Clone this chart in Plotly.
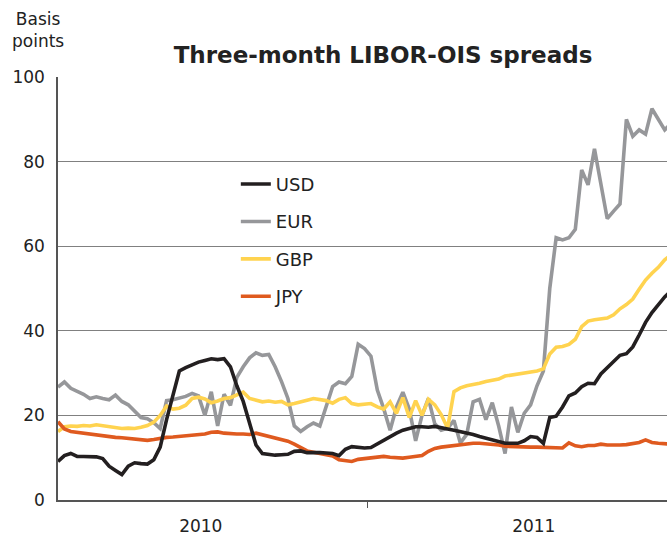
import pandas as pd
import plotly.graph_objects as go

# Weekly observation dates (x categories)
dates = pd.date_range("2010-01-27", periods=97, freq="7D")

usd = [9.1, 10.5, 11.0, 10.3, 10.3, 10.2, 10.2, 9.8, 8.0, 7.0,
       6.0, 8.0, 8.8, 8.6, 8.5, 9.5, 12.5, 19.0, 25.0, 30.5,
       31.3, 32.0, 32.6, 33.0, 33.4, 33.2, 33.4, 31.5, 27.0, 23.3,
       17.8, 13.0, 11.0, 10.8, 10.6, 10.7, 10.8, 11.5, 11.6, 11.2,
       11.3, 11.2, 11.1, 11.0, 10.5, 12.0, 12.6, 12.4, 12.3, 12.4,
       13.3, 14.0, 15.0, 15.8, 16.5, 17.0, 17.3, 17.3, 17.2, 17.4,
       17.0, 16.8, 16.5, 16.2, 15.8, 15.5, 15.0, 14.6, 14.0, 13.8,
       13.4, 13.4, 13.4, 14.0, 15.0, 14.8, 13.4, 19.5, 19.8, 22.0,
       24.6, 25.3, 26.8, 27.6, 27.5, 29.8, 31.2, 32.7, 34.2, 34.6,
       36.2, 39.0, 42.0, 44.3, 46.3, 48.0, 49.5]

eur = [26.7, 27.9, 26.4, 25.8, 25.0, 24.0, 24.4, 24.0, 23.7, 24.8,
       23.3, 22.5, 21.0, 19.5, 19.2, 18.3, 16.9, 23.5, 23.7, 24.0,
       24.5, 25.2, 24.6, 20.0, 25.6, 17.5, 25.0, 22.4, 29.0, 31.5,
       33.6, 34.8, 34.2, 34.4, 31.5, 28.0, 24.0, 17.5, 16.2, 17.3,
       18.2, 17.5, 22.5, 26.8, 27.9, 27.5, 29.2, 36.8, 35.8, 34.0,
       26.0, 21.6, 16.5, 22.0, 25.5, 21.5, 14.0, 20.0, 24.0, 18.0,
       16.5, 17.0, 18.8, 13.5, 15.5, 23.2, 23.8, 19.0, 23.0, 17.5,
       11.0, 22.0, 16.0, 20.5, 22.5, 27.0, 30.5, 50.0, 62.0, 61.5,
       62.0, 64.0, 78.0, 74.5, 83.0, 74.5, 66.5, 68.3, 70.0, 90.0,
       86.0, 87.5, 86.5, 92.5, 90.0, 87.5, 89.0]

gbp = [16.2, 17.3, 17.5, 17.4, 17.6, 17.5, 17.8, 17.6, 17.5, 17.2,
       16.9, 17.0, 16.9, 17.2, 17.6, 18.4, 20.0, 22.2, 21.5, 21.7,
       22.4, 24.0, 24.3, 23.9, 23.0, 23.4, 24.0, 24.2, 24.8, 25.5,
       24.0, 23.5, 23.2, 23.4, 23.1, 23.3, 22.5, 22.8, 23.3, 23.6,
       24.0, 23.8, 23.5, 22.9, 23.8, 24.2, 22.8, 22.5, 22.6, 22.8,
       22.0, 21.5, 23.2, 20.5, 24.2, 19.5, 23.5, 20.0, 23.8, 22.5,
       20.2, 17.0, 25.6, 26.5, 27.0, 27.2, 27.6, 28.0, 28.3, 28.6,
       29.3, 29.5, 29.8, 30.0, 30.2, 30.5, 31.0, 34.5, 36.1, 36.3,
       36.8, 38.0, 41.0, 42.3, 42.6, 42.9, 43.0, 43.8, 45.2, 46.2,
       47.5, 49.8, 52.0, 53.6, 55.0, 56.8, 58.0]

jpy = [18.5, 16.8, 16.2, 16.0, 15.7, 15.4, 15.2, 15.1, 15.0, 14.8,
       14.7, 14.5, 14.3, 14.2, 14.1, 14.3, 14.6, 14.8, 14.9, 15.0,
       15.1, 15.3, 15.4, 15.6, 16.0, 16.1, 15.8, 15.6, 15.6, 15.6,
       15.5, 15.8, 15.4, 14.9, 14.5, 14.3, 13.9, 13.2, 12.4, 11.6,
       11.3, 11.0, 10.7, 10.4, 9.5, 9.2, 9.1, 9.6, 9.8, 10.0,
       10.2, 10.3, 10.1, 9.9, 9.9, 10.1, 10.2, 10.5, 11.5, 12.2,
       12.5, 12.7, 12.9, 13.1, 13.3, 13.4, 13.4, 13.3, 13.1, 13.0,
       12.7, 12.6, 12.6, 12.5, 12.5, 12.5, 12.4, 12.3, 12.2, 12.3,
       13.5, 12.8, 12.6, 12.9, 12.9, 13.2, 13.0, 12.9, 13.0, 13.1,
       13.3, 13.6, 14.2, 13.6, 13.4, 13.3, 13.2]

series_names = ["USD", "EUR", "GBP", "JPY"]
series_colors = ["#231f20", "#96979a", "#ffd34f", "#df5a1f"]
series_values = [usd, eur, gbp, jpy]
draw_order = [1, 2, 3, 0]  # EUR at back, USD on top

y_ticks = [0, 20, 40, 60, 80, 100]
x_range = ["2010-01-27", "2011-11-25 12:00"]

FONT = "DejaVu Sans"
W, H = 667, 536

fig = go.Figure()
for i in draw_order:
    fig.add_trace(go.Scatter(
        x=dates, y=series_values[i], name=series_names[i], mode="lines",
        line=dict(color=series_colors[i], width=3.6),
        legendgroup=series_names[i], legendrank=i + 1,
    ))

fig.update_layout(
    width=W, height=H,
    margin=dict(l=58, r=0, t=77, b=34),
    paper_bgcolor="white", plot_bgcolor="white",
    font=dict(family=FONT, size=17, color="#222222"),
    title=dict(text="<b>Three-month LIBOR-OIS spreads</b>",
               x=383 / W, xanchor="center", xref="container",
               y=1 - 55 / H, yanchor="middle",
               font=dict(family=FONT, size=23, color="#222222")),
    showlegend=True,
    legend=dict(x=0.292, y=0.79, xanchor="left", yanchor="top",
                bgcolor="rgba(0,0,0,0)", tracegroupgap=11,
                font=dict(family=FONT, size=18, color="#222222")),
    annotations=[dict(text="Basis<br>points", xref="paper", yref="paper",
                      x=-0.033, y=1.112, xanchor="center", yanchor="middle",
                      showarrow=False, font=dict(family=FONT, size=17, color="#222222"))],
)
fig.update_xaxes(
    type="date", range=x_range, dtick="M12", tickformat="%Y",
    ticklabelmode="period", ticks="outside", ticklen=6, tickcolor="#555555",
    showgrid=False, showline=True, linecolor="#555555", linewidth=1.5,
    zeroline=False, ticklabelstandoff=4,
)
fig.update_yaxes(
    range=[0, 100], tickvals=y_ticks, showgrid=True, gridcolor="#808080", gridwidth=1.3,
    showline=True, linecolor="#555555", linewidth=1.5, zeroline=False,
    ticks="", ticklabelstandoff=8,
)
# Remove the page's default body margin so the 667x536 figure fills the window.
fig.write_html("out.html",
               config={"displayModeBar": False},
               post_script="document.body.style.margin='0';"
                           "document.body.style.overflow='hidden';")
